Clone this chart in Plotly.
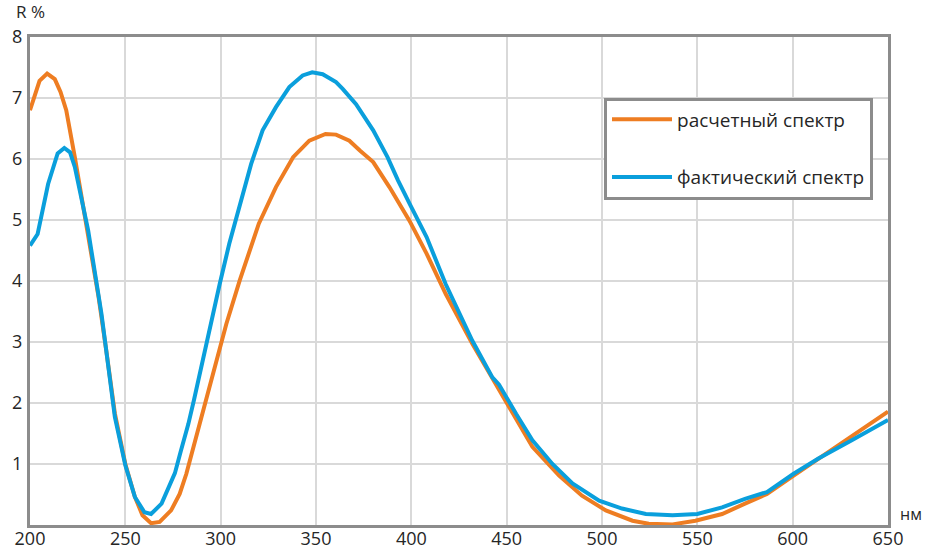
import plotly.graph_objects as go

# расчетный спектр (calculated)
wl_calc = [200, 205, 209, 213, 216, 219, 223.5, 230.5, 236, 240, 244.5, 250, 255, 259, 263.5,
           268, 274, 278.5, 282, 289, 296, 303, 310, 320, 329, 338, 346.5, 355, 360.5, 367.5,
           373, 380, 388.5, 399, 408, 418, 432, 442.5, 446, 455, 463.5, 477.5, 489.5, 502,
           516, 524.5, 537, 549, 563, 575, 586.5, 600.5, 613.5, 631, 650]
r_calc = [6.80, 7.28, 7.40, 7.31, 7.10, 6.80, 6.03, 4.72, 3.73, 2.86, 1.83, 1.00, 0.46, 0.16, 0.03,
          0.05, 0.24, 0.51, 0.84, 1.66, 2.48, 3.30, 4.01, 4.94, 5.54, 6.03, 6.30, 6.41, 6.40, 6.30,
          6.14, 5.95, 5.54, 4.99, 4.45, 3.79, 2.97, 2.40, 2.22, 1.74, 1.28, 0.81, 0.48, 0.24,
          0.07, 0.02, 0.01, 0.07, 0.18, 0.35, 0.51, 0.81, 1.09, 1.47, 1.86]

# фактический спектр (measured)
wl_meas = [200, 204, 209.5, 214.5, 218, 221, 223.5, 230.5, 237.5, 244.5, 250, 255, 260, 263.5,
           269, 276, 279, 283, 286, 292.5, 299.5, 304.5, 310, 316, 322, 329, 336, 343, 348,
           353.5, 360.5, 364, 371, 380, 387.5, 393, 400, 408, 418, 432, 442.5, 446, 455,
           463.5, 474, 484.5, 498.5, 510.5, 523, 537, 550, 563, 575, 586.5, 600.5, 613.5,
           631, 650]
r_meas = [4.58, 4.77, 5.59, 6.09, 6.18, 6.11, 5.87, 4.83, 3.46, 1.77, 0.98, 0.46, 0.21, 0.18,
          0.35, 0.85, 1.20, 1.65, 2.05, 2.98, 3.95, 4.61, 5.21, 5.92, 6.47, 6.85, 7.18, 7.37, 7.42,
          7.39, 7.26, 7.15, 6.90, 6.47, 6.03, 5.65, 5.21, 4.72, 3.95, 3.02, 2.42, 2.30, 1.82,
          1.39, 1.00, 0.68, 0.40, 0.27, 0.18, 0.16, 0.18, 0.29, 0.43, 0.54, 0.84, 1.09,
          1.39, 1.72]

x_ticks = [200, 250, 300, 350, 400, 450, 500, 550, 600, 650]
y_ticks = [1, 2, 3, 4, 5, 6, 7, 8]

ORANGE = "#EE7D22"
BLUE = "#0A9FDC"
FRAME = "#8C8C8C"
GRID = "#D9D9D9"
FONT = "Open Sans"
TEXT = "#262626"

fig = go.Figure()
fig.add_trace(go.Scatter(x=wl_calc, y=r_calc, mode="lines", name="расчетный спектр",
                         line=dict(color=ORANGE, width=4), legendgroup="a"))
fig.add_trace(go.Scatter(x=wl_meas, y=r_meas, mode="lines", name="фактический спектр",
                         line=dict(color=BLUE, width=4), legendgroup="b"))

fig.update_layout(
    width=934, height=549,
    margin=dict(l=30, r=46, t=37, b=24, autoexpand=False),
    paper_bgcolor="white", plot_bgcolor="white",
    font=dict(family=FONT, size=19, color=TEXT),
    showlegend=True,
    legend=dict(x=0.669, y=0.876, xanchor="left", yanchor="top",
                bordercolor=FRAME, borderwidth=3, bgcolor="white",
                font=dict(size=19, color=TEXT),
                tracegroupgap=30, itemwidth=60),
    xaxis=dict(range=[200, 650], tickvals=x_ticks, ticktext=[str(v) for v in x_ticks],
               showgrid=True, gridcolor=GRID, gridwidth=1.5, automargin=False,
               showline=True, linecolor=FRAME, linewidth=3, mirror=True,
               ticks="", zeroline=False, ticklabelstandoff=-5,
               tickfont=dict(size=18)),
    yaxis=dict(range=[0, 8], tickvals=y_ticks, ticktext=[str(v) for v in y_ticks],
               showgrid=True, gridcolor=GRID, gridwidth=1.5, automargin=False,
               showline=True, linecolor=FRAME, linewidth=3, mirror=True,
               ticks="", zeroline=False, ticklabelstandoff=1,
               tickfont=dict(size=18)),
    annotations=[
        dict(text="R %", xref="paper", yref="paper", x=0, y=1, xanchor="center",
             yanchor="bottom", yshift=12, xshift=0, showarrow=False,
             font=dict(size=17, color=TEXT)),
        dict(text="нм", xref="paper", yref="paper", x=1, y=0, xanchor="left",
             yanchor="bottom", xshift=10, yshift=-2, showarrow=False,
             font=dict(size=16, color=TEXT)),
    ],
)

# remove the browser's default 8px body margin so the figure sits at the page origin
fig.write_html("out.html", config={"displayModeBar": False},
               post_script="document.body.style.margin='0';")
